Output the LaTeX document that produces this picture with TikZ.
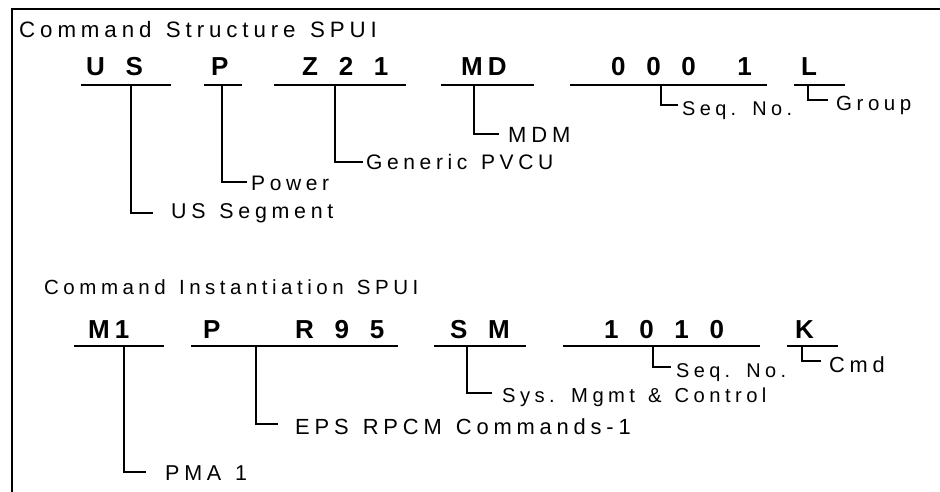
\documentclass[tikz,border=0pt]{standalone}
\usepackage{fontspec}
\newfontfamily\labfont{Liberation Sans}[LetterSpace=22, WordSpace=1.3]
\newfontfamily\codefont{Liberation Sans}[LetterSpace=19, WordSpace=1.7]
\tikzset{
  x=1pt, y=-1pt,
  lab/.style={anchor=base west, inner sep=0pt, font=\labfont\fontsize{#1}{22}\selectfont},
  lab/.default=21,
  code/.style={anchor=base west, inner sep=0pt, font=\codefont\bfseries\fontsize{26}{28}\selectfont},
  uline/.style={line width=2.2pt},
  conn/.style={line width=2pt},
  frame/.style={line width=2.4pt}
}
\begin{document}
\begin{tikzpicture}
\useasboundingbox (0,0) rectangle (940,492);
% frame
\coordinate (fa) at (12,492);
\coordinate (fb) at (12,9);
\coordinate (fc) at (940,9);
\draw[frame] (fa) -- (fb) -- (fc);

% ---------- Command Structure ----------
\node[lab=22.3] (t1) at (19,38) {Command Structure SPUI};
\node[code] (cUS) at (86,76) {U S};
\node[code] (cP) at (211,76) {P};
\node[code] (cZ) at (302,76) {Z 2 1};
\node[code] (cMD) at (461,76) {MD};
\node[code] (c0001) at (611,76) {0 0 0\ \ 1};
\node[code] (cL) at (801,76) {L};

\foreach \n/\a/\b in {1/81/171, 2/204/242, 3/274/406, 4/441/534, 5/570/767, 6/794/845}{
  \coordinate (ua\n) at (\a,85);
  \coordinate (ub\n) at (\b,85);
  \draw[uline] (ua\n) -- (ub\n);
}

\node[lab=21.4] (lUS) at (171,218) {US Segment};
\node[lab=21] (lP) at (251,190) {Power};
\node[lab=21] (lZ) at (366,170) {Generic PVCU};
\node[lab=22] (lMD) at (508,143) {MDM};
\node[lab=19.9] (lSeq) at (682,116) {Seq. No.};
\node[lab=20.5] (lG) at (836,111) {Group};

\coordinate (s1) at (131,85);  \coordinate (e1) at (153,213);
\coordinate (s2) at (222,85);  \coordinate (e2) at (247,182);
\coordinate (s3) at (335,85);  \coordinate (e3) at (363,162);
\coordinate (s4) at (474,85);  \coordinate (e4) at (499,134);
\coordinate (s5) at (661,85);  \coordinate (e5) at (678,105);
\coordinate (s6) at (808,85);  \coordinate (e6) at (828,100);
\foreach \n in {1,...,6}{ \draw[conn] (s\n) |- (e\n); }

% ---------- Command Instantiation ----------
\node[lab=20.5] (t2) at (44,294) {Command Instantiation SPUI};
\node[code] (dM1) at (88,338) {M1};
\node[code] (dP) at (203,338) {P};
\node[code] (dR) at (295,338) {R 9 5};
\node[code] (dSM) at (450,338) {S M};
\node[code] (d1010) at (604,338) {1 0 1 0};
\node[code] (dK) at (795,338) {K};

\foreach \n/\a/\b in {1/74/164, 2/191/398, 3/434/526, 4/563/760, 5/787/838}{
  \coordinate (va\n) at (\a,346);
  \coordinate (vb\n) at (\b,346);
  \draw[uline] (va\n) -- (vb\n);
}

\node[lab=21.5] (mP) at (165,480) {PMA 1};
\node[lab=21.9] (mE) at (295,434) {EPS RPCM Commands-1};
\node[lab=20.2] (mS) at (502,402) {Sys. Mgmt \& Control};
\node[lab=19.9] (mSeq) at (676,377) {Seq. No.};
\node[lab=21.8] (mC) at (829,372) {Cmd};

\coordinate (r1) at (124,346);  \coordinate (f1) at (146,472);
\coordinate (r2) at (256,346);  \coordinate (f2) at (278,424);
\coordinate (r3) at (467,346);  \coordinate (f3) at (492,393);
\coordinate (r4) at (653,346);  \coordinate (f4) at (671,367);
\coordinate (r5) at (802,346);  \coordinate (f5) at (821,361);
\foreach \n in {1,...,5}{ \draw[conn] (r\n) |- (f\n); }
\end{tikzpicture}
\end{document}
